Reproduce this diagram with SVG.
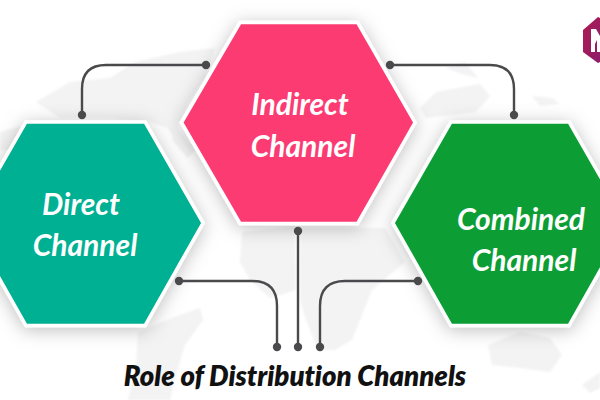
<svg xmlns="http://www.w3.org/2000/svg" width="600" height="400" viewBox="0 0 600 400">
<defs>
<filter id="sh" x="-20%" y="-20%" width="140%" height="140%"><feDropShadow dx="0" dy="3" stdDeviation="9" flood-color="#000" flood-opacity="0.25"/></filter>
<filter id="soft" x="-5%" y="-5%" width="110%" height="110%"><feGaussianBlur stdDeviation="1.2"/></filter>
<linearGradient id="lg" x1="0" y1="0" x2="1" y2="1"><stop offset="0" stop-color="#b01a50"/><stop offset="1" stop-color="#8c1d6b"/></linearGradient>
</defs>
<style>
.hex{stroke:#fff;stroke-width:3.5;stroke-linejoin:miter;filter:url(#sh)}
.lab{font-family:Lato,"Liberation Sans",sans-serif;font-style:italic;font-weight:700;font-size:30px;fill:#fff;text-anchor:middle;font-variant-ligatures:none}
.ttl{font-family:Lato,"Liberation Sans",sans-serif;font-style:italic;font-weight:800;font-size:27.500px;fill:#111;text-anchor:middle;font-variant-ligatures:none}
.con{fill:none;stroke:#4a4a4c;stroke-width:2.4}
.dot{fill:#4a4a4c}
.map{fill:#f3f3f4}
</style>
<rect width="600" height="400" fill="#fff"/>
<g id="map" filter="url(#soft)">
<path class="map" d="M36 102 L70 82 L110 78 L135 62 L180 52 L215 48 L205 78 L190 100 L178 125 L180 150 L168 128 L150 122 L110 118 L60 118 Z"/>
<path class="map" d="M0 132 L22 126 L12 150 L0 150 Z"/>
<path class="map" d="M175 125 L195 150 L188 158 L172 140 Z"/>
<path class="map" d="M172 318 L200 308 L203 320 L185 345 L176 375 L170 400 L128 400 L136 365 L138 332 Z"/>
<path class="map" d="M242 232 L295 226 L296 290 L270 298 L250 280 L240 262 Z"/>
<path class="map" d="M300 228 L385 228 L405 262 L372 290 L352 340 L335 350 L318 350 L306 320 L300 300 Z"/>
<path class="map" d="M445 68 L465 62 L478 78 L462 74 Z"/>
<path class="map" d="M436 92 L480 84 L490 96 L476 112 L426 118 L420 108 Z"/>
<path class="map" d="M532 96 L552 98 L560 104 L540 106 Z"/>
<path class="map" d="M488 345 L520 332 L550 338 L562 355 L550 372 L520 368 L492 365 Z"/>
<path class="map" d="M582 385 L600 372 L600 388 L590 393 Z"/>
</g>
<g id="node-indirect"><polygon class="hex" points="240,22.500 357.500,22.500 415,122.500 357.500,223.500 240,223.500 181.500,122.500" fill="#fb3b72"/><text class="lab" x="300" y="115">Indirect</text><text class="lab" x="303" y="157">Channel</text></g>
<g id="node-direct"><polygon class="hex" points="26,122 145,122 203,223 145,325.500 26,325.500 -32,223" fill="#02b093"/><text class="lab" x="81" y="215">Direct</text><text class="lab" x="85" y="256">Channel</text></g>
<g id="node-combined"><polygon class="hex" points="451,122 569,122 627,223 569,325.500 451,325.500 393,223" fill="#0a9d36"/><text class="lab" x="521" y="230">Combined</text><text class="lab" x="524" y="271">Channel</text></g>
<g id="connectors">
<path class="con" d="M206 65 H106 Q82 65 82 89 V115"/>
<circle class="dot" cx="206" cy="65" r="4.200"/><circle class="dot" cx="82" cy="115" r="4.200"/>
<path class="con" d="M390 65 H490 Q514 65 514 89 V115"/>
<circle class="dot" cx="390" cy="65" r="4.200"/><circle class="dot" cx="514" cy="115" r="4.200"/>
<path class="con" d="M179 281 H252 Q277 281 277 306 V347"/>
<circle class="dot" cx="179" cy="281" r="4.200"/><circle class="dot" cx="277" cy="347" r="4.200"/>
<path class="con" d="M298 231 V347"/>
<circle class="dot" cx="298" cy="231" r="4.200"/><circle class="dot" cx="298" cy="347" r="4.200"/>
<path class="con" d="M418 281 H345 Q320 281 320 306 V347"/>
<circle class="dot" cx="418" cy="281" r="4.200"/><circle class="dot" cx="320" cy="347" r="4.200"/>
</g>
<g id="logo"><polygon points="598,17 600,18 600,62 598,63 583,52 583,30" fill="url(#lg)"/><path d="M591 29 H596 L600 36 V52 H597 V40 L595 44 V52 H591Z" fill="#fff"/></g>
<text class="ttl" x="295" y="386">Role of Distribution Channels</text>
</svg>
